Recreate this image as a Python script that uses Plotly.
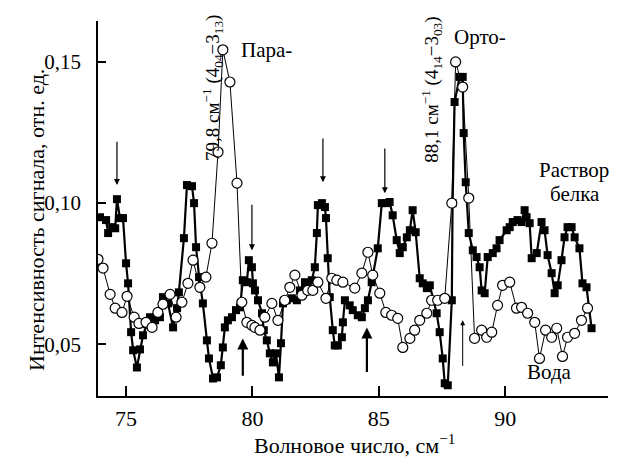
import plotly.graph_objects as go

# Раствор белка (filled squares)
protein_x = [73.97,74.21,74.29,74.45,74.57,74.64,74.76,74.88,75.00,75.08,75.20,75.28,75.43,75.55,75.67,75.83,75.95,76.15,76.34,76.46,
             76.66,76.86,77.02,77.09,77.29,77.41,77.61,77.69,77.77,77.89,78.04,78.20,78.28,78.44,78.60,78.75,78.83,78.91,79.03,79.19,
             79.35,79.51,79.62,79.78,79.86,79.98,80.02,80.10,80.22,80.38,80.45,80.57,80.69,80.81,80.93,81.05,81.13,81.21,81.36,81.56,
             81.76,81.88,82.08,82.19,82.35,82.47,82.55,82.59,82.75,82.87,82.91,82.98,83.06,83.18,83.26,83.38,83.54,83.58,83.66,83.85,
             83.97,84.17,84.33,84.45,84.57,84.72,84.96,85.12,85.28,85.43,85.55,85.71,85.83,85.95,86.11,86.23,86.34,86.46,86.62,86.74,
             86.90,87.02,87.29,87.41,87.53,87.61,87.73,87.89,87.92,88.00,88.20,88.32,88.36,88.44,88.56,88.72,88.87,88.99,89.07,89.19,
             89.31,89.51,89.66,89.78,90.06,90.18,90.30,90.49,90.65,90.77,90.85,90.97,91.05,91.25,91.44,91.56,91.68,91.84,91.96,92.08,
             92.23,92.35,92.47,92.63,92.75,92.94,93.06,93.22,93.42]
protein_y = [0.0950,0.0940,0.0894,0.0915,0.0911,0.1014,0.0947,0.0947,0.0787,0.0716,0.0543,0.0479,0.0418,0.0482,0.0532,0.0571,0.0596,0.0585,0.0596,0.0667,
             0.0645,0.0560,0.0628,0.0684,0.0876,0.1064,0.1060,0.1000,0.0844,0.0738,0.0645,0.0514,0.0450,0.0379,0.0383,0.0426,0.0489,0.0560,0.0585,0.0596,
             0.0621,0.0631,0.0727,0.0720,0.0798,0.0773,0.0716,0.0691,0.0656,0.0610,0.0550,0.0514,0.0468,0.0436,0.0468,0.0383,0.0504,0.0645,0.0656,0.0663,
             0.0656,0.0691,0.0720,0.0716,0.0727,0.0773,0.0894,0.0993,0.1000,0.0986,0.0947,0.0805,0.0667,0.0550,0.0496,0.0496,0.0525,0.0578,0.0656,0.0638,
             0.0621,0.0603,0.0596,0.0628,0.0656,0.0720,0.0840,0.1000,0.1000,0.1004,0.0957,0.0869,0.0823,0.0844,0.0879,0.0904,0.0975,0.0897,0.0734,0.0716,
             0.0699,0.0709,0.0610,0.0543,0.0450,0.0362,0.0355,0.0656,0.1000,0.1358,0.1447,0.1447,0.1248,0.1074,0.0894,0.0833,0.0809,0.0773,0.0691,0.0681,
             0.0809,0.0823,0.0840,0.0869,0.0904,0.0915,0.0933,0.0940,0.0933,0.0975,0.0950,0.0929,0.0805,0.0823,0.0933,0.0904,0.0816,0.0752,0.0681,0.0709,
             0.0798,0.0879,0.0915,0.0915,0.0879,0.0840,0.0716,0.0702,0.0557]

# Вода (open circles)
water_x = [73.89,74.09,74.37,74.57,74.84,75.04,75.32,75.51,75.79,76.03,76.26,76.46,76.74,76.98,77.21,77.45,77.65,77.92,78.16,78.40,
           78.64,78.83,79.11,79.39,79.58,79.78,79.98,80.10,80.30,80.49,80.77,81.01,81.28,81.48,81.68,81.96,82.19,82.39,82.59,82.91,
           83.14,83.34,83.58,84.05,84.33,84.57,84.76,85.04,85.28,85.51,85.75,85.95,86.23,86.42,86.62,86.90,87.09,87.33,87.61,87.89,
           88.04,88.32,88.56,88.79,89.07,89.27,89.47,89.70,89.90,90.18,90.45,90.65,90.89,91.17,91.36,91.60,91.84,92.04,92.27,92.47,
           92.75,93.02,93.26]
water_y = [0.0801,0.0770,0.0677,0.0628,0.0613,0.0670,0.0596,0.0574,0.0578,0.0560,0.0613,0.0642,0.0677,0.0596,0.0649,0.0716,0.0798,0.0702,0.0738,0.0858,
           0.1181,0.1543,0.1429,0.1071,0.0649,0.0578,0.0567,0.0560,0.0550,0.0596,0.0645,0.0585,0.0656,0.0702,0.0745,0.0674,0.0691,0.0691,0.0720,0.0663,
           0.0734,0.0727,0.0720,0.0699,0.0752,0.0826,0.0745,0.0681,0.0613,0.0603,0.0592,0.0489,0.0521,0.0550,0.0585,0.0610,0.0656,0.0656,0.0663,0.1000,
           0.1500,0.1411,0.1018,0.0521,0.0550,0.0525,0.0543,0.0638,0.0709,0.0720,0.0628,0.0631,0.0610,0.0578,0.0450,0.0550,0.0525,0.0557,0.0457,0.0525,
           0.0539,0.0585,0.0628]

x_tickvals = [75, 80, 85, 90]
x_ticktext = ["75", "80", "85", "90"]
y_tickvals = [0.05, 0.10, 0.15]
y_ticktext = ["0,05", "0,10", "0,15"]

# arrows: (x, tail_y, tip_y, width)
arrows = [(74.64, 0.1223, 0.1064, 1.2), (79.98, 0.1000, 0.0833, 1.2), (82.79, 0.1234, 0.1074, 1.2),
          (85.24, 0.1199, 0.1035, 1.2), (79.62, 0.0383, 0.0521, 2.2), (84.53, 0.0397, 0.0560, 2.2),
          (88.32, 0.0418, 0.0585, 1.0)]

FONT = "Liberation Serif"

fig = go.Figure()
fig.add_trace(go.Scatter(x=protein_x, y=protein_y, mode="lines+markers",
                         line=dict(color="black", width=2.2),
                         marker=dict(symbol="square", size=8, color="black"),
                         showlegend=False))
fig.add_trace(go.Scatter(x=water_x, y=water_y, mode="lines+markers",
                         line=dict(color="black", width=1),
                         marker=dict(symbol="circle", size=10, color="white",
                                     line=dict(color="black", width=1.2)),
                         showlegend=False))

ann = []
for x, ty, hy, w in arrows:
    ann.append(dict(x=x, y=hy, ax=x, ay=ty, xref="x", yref="y", axref="x", ayref="y",
                    text="", showarrow=True, arrowhead=2, arrowsize=1, arrowwidth=w,
                    arrowcolor="black"))

txt = dict(family=FONT, size=22, color="black")
lbl = dict(family=FONT, size=21, color="black")
rot = dict(family=FONT, size=19, color="black")
C = dict(xanchor="center", yanchor="middle", showarrow=False)
ann += [
    dict(x=80.55, y=0.1543, xref="x", yref="y", text="Пара-", font=lbl, **C),
    dict(x=89.00, y=0.1589, xref="x", yref="y", text="Орто-", font=lbl, **C),
    dict(x=92.72, y=0.1117, xref="x", yref="y", text="Раствор", font=lbl, **C),
    dict(x=92.75, y=0.1032, xref="x", yref="y", text="белка", font=lbl, **C),
    dict(x=91.76, y=0.0401, xref="x", yref="y", text="Вода", font=lbl, **C),
    dict(x=78.44, y=0.1408, xref="x", yref="y", textangle=-90,
         text="79,8 см<sup>−1</sup> (4<sub>04</sub>−3<sub>13</sub>)", font=rot, **C),
    dict(x=87.09, y=0.1400, xref="x", yref="y", textangle=-90,
         text="88,1 см<sup>−1</sup> (4<sub>14</sub>−3<sub>03</sub>)", font=rot, **C),
    dict(x=0.504, y=-0.128, xref="paper", yref="paper",
         text="Волновое число, см<sup>−1</sup>", font=txt, **C),
    dict(x=-0.122, y=0.469, xref="paper", yref="paper", textangle=-90,
         text="Интенсивность сигнала, отн. ед.", font=txt, **C),
]

# the page body adds an 8 px offset, so the figure is drawn 8 px smaller
fig.update_layout(
    width=610, height=451,
    margin=dict(l=90, r=10, t=13, b=63),
    paper_bgcolor="white", plot_bgcolor="white",
    annotations=ann,
    font=dict(family=FONT, size=22, color="black"),
)
fig.update_xaxes(range=[73.89, 94.07], tickvals=x_tickvals, ticktext=x_ticktext,
                 ticks="inside", ticklen=10, tickwidth=1.5, tickcolor="black",
                 showline=True, linecolor="black", linewidth=1.5, showgrid=False, zeroline=False,
                 tickfont=dict(family=FONT, size=22), ticklabelstandoff=2)
fig.update_yaxes(range=[0.0317, 0.1645], tickvals=y_tickvals, ticktext=y_ticktext,
                 ticks="inside", ticklen=8, tickwidth=1.5, tickcolor="black",
                 showline=True, linecolor="black", linewidth=1.5, showgrid=False, zeroline=False,
                 tickfont=dict(family=FONT, size=21), ticklabelstandoff=11)

fig.write_html("out.html")
